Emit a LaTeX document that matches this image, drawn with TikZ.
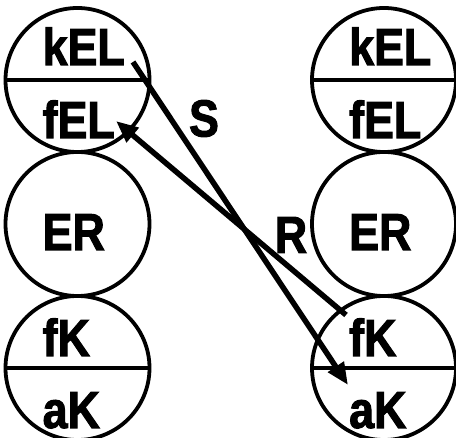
\documentclass[tikz,border=0pt]{standalone}
\usepackage{fontspec}
\setmainfont{Liberation Sans}
\newfontfamily\narrowbold{Liberation Sans Bold}[FakeStretch=0.86,FakeBold=2]
\usetikzlibrary{arrows.meta}
\begin{document}
\begin{tikzpicture}[x=1pt,y=-1pt,
  cell/.style={circle,draw,line width=3.8pt,minimum size=144pt,inner sep=0pt},
  lbl/.style={anchor=base west,inner sep=0pt,font=\narrowbold\fontsize{52}{52}\selectfont},
  divider/.style={line width=3.8pt},
  flow/.style={line width=5.5pt,-{Triangle[length=22pt,width=18pt]}},
  tag/.style={inner sep=0pt,font=\narrowbold\fontsize{52}{52}\selectfont}]
\useasboundingbox (0,0) rectangle (456,438);
% left column
\node[cell] (L1) at (77.5,80) {};
\node[cell] (L2) at (77.5,224) {};
\node[cell] (L3) at (77.5,368) {};
% right column
\node[cell] (R1) at (384,80) {};
\node[cell] (R2) at (384,224) {};
\node[cell] (R3) at (384,368) {};
% horizontal dividers
\draw[divider] (L1.west) -- (L1.east);
\draw[divider] (L3.west) -- (L3.east);
\draw[divider] (R1.west) -- (R1.east);
\draw[divider] (R3.west) -- (R3.east);
% labels
\node[lbl] (kELl) at (42.5,65) {kEL};
\node[lbl] (fELl) at (42.5,138) {fEL};
\node[lbl] (ERl) at (42.5,250) {ER};
\node[lbl] (fKl) at (42.5,356) {fK};
\node[lbl] (aKl) at (42.5,428) {aK};
\node[lbl] (kELr) at (349,65) {kEL};
\node[lbl] (fELr) at (349,138) {fEL};
\node[lbl] (ERr) at (349,250) {ER};
\node[lbl] (fKr) at (349,356) {fK};
\node[lbl] (aKr) at (349,428) {aK};
% arrow end points
\coordinate (sStart) at (133,62);
\coordinate (sEnd) at (348,385);
\coordinate (rStart) at (346,315);
\coordinate (rEnd) at (116,121);
\draw[flow] (sStart) -- (sEnd);
\draw[flow] (rStart) -- (rEnd);
\node[tag] (S) at (204,118.5) {S};
\node[tag] (R) at (291,235) {R};
\end{tikzpicture}
\end{document}
